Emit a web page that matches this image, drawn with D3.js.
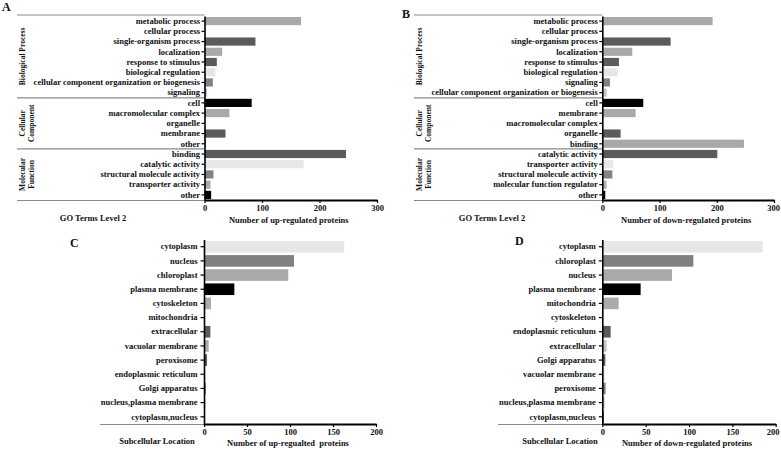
<!DOCTYPE html>
<html><head><meta charset="utf-8">
<script src="https://cdn.jsdelivr.net/npm/d3@7"></script>
<style>
body{margin:0;background:#fff}
svg{display:block}
text{font-family:"Liberation Serif","Times New Roman",serif;font-weight:bold;fill:#111}
</style>
</head><body><svg id="chart" width="781" height="449"></svg>
<script>
// ---------- data ----------
const termsA = ["metabolic process","cellular process","single-organism process","localization","response to stimulus","biological regulation","cellular component organization or biogenesis","signaling","cell","macromolecular complex","organelle","membrane","other","binding","catalytic activity","structural molecule activity","transporter activity","other"];
const upValuesA = [168,133,88.6,30.7,21.4,19,14.5,4.6,82,43.4,0,36.5,2.9,246,172.5,15.6,10.4,11.6];

const termsB = ["metabolic process","cellular process","single-organism process","localization","response to stimulus","biological regulation","signaling","cellular component organization or biogenesis","cell","membrane","macromolecular complex","organelle","binding","catalytic activity","transporter activity","structural molecule activity","molecular function regulator","other"];
const downValuesB = [192.8,0,119.4,52.4,29.1,26.8,13.4,7.6,71.6,58.2,0,32,247.5,201,19.2,17.5,7.6,5.2];

const goGroups = [["Biological Process"],["Cellular","Component"],["Molecular","Function"]];
const goGroupSizes = [8,5,5];

const locationsC = ["cytoplasm","nucleus","chloroplast","plasma membrane","cytoskeleton","mitochondria","extracellular","vacuolar membrane","peroxisome","endoplasmic reticulum","Golgi apparatus","nucleus,plasma membrane","cytoplasm,nucleus"];
const upValuesC = [163,104.7,98,35.3,8.1,0,7.4,5.4,3.5,1.5,2.3,1.5,1.2];

const locationsD = ["cytoplasm","chloroplast","nucleus","plasma membrane","mitochondria","cytoskeleton","endoplasmic reticulum","extracellular","Golgi apparatus","vacuolar membrane","peroxisome","nucleus,plasma membrane","cytoplasm,nucleus"];
const downValuesD = [185,105,80.4,44.2,18.8,0,9.6,5,3.5,3,3.8,2.7,1.5];

const ticksGO = [0,100,200,300];
const ticksLoc = [0,50,100,150,200];

// ---------- styles (bar fills) ----------
const fillA = ["#a9a9a9","#ffffff","#5b5b5b","#a9a9a9","#5b5b5b","#e6e6e6","#828282","#c4c4c4","#000000","#a9a9a9","#ffffff","#5b5b5b","#b8b8b8","#5b5b5b","#e8e8e8","#828282","#a9a9a9","#000000"];
const fillB = ["#a9a9a9","#ffffff","#5b5b5b","#a9a9a9","#5b5b5b","#e6e6e6","#828282","#c4c4c4","#000000","#a9a9a9","#ffffff","#5b5b5b","#a9a9a9","#5b5b5b","#e8e8e8","#828282","#b4b4b4","#000000"];
const fillC = ["#e6e6e6","#808080","#a9a9a9","#000000","#ababab","#ffffff","#5b5b5b","#ababab","#5b5b5b","#e6e6e6","#808080","#b4b4b4","#000000"];
const fillD = ["#e6e6e6","#808080","#a9a9a9","#000000","#ababab","#ffffff","#5b5b5b","#c4c4c4","#5b5b5b","#ececec","#808080","#c4c4c4","#000000"];

const svg = d3.select("#chart");

function panel(cfg){
  const g = svg.append("g");
  const n = cfg.labels.length;
  const x = d3.scaleLinear().domain([0, cfg.max]).range([cfg.x0, cfg.x1]);
  const y = d3.scaleBand().domain(d3.range(n)).range([cfg.yTop, cfg.yBot])
              .paddingInner(cfg.pad).paddingOuter(0.1);

  const gray = "#8a8a8a";
  g.append("line").attr("x1", cfg.lineLeft).attr("x2", cfg.x0)
    .attr("y1", cfg.yBot + 0.5).attr("y2", cfg.yBot + 0.5)
    .attr("stroke", gray).attr("stroke-width", 1.2);
  if (cfg.groups){
    g.append("line").attr("x1", cfg.lineLeft).attr("x2", cfg.x0)
      .attr("y1", cfg.yTop - 1).attr("y2", cfg.yTop - 1)
      .attr("stroke", gray).attr("stroke-width", 1.2);
    let start = 0;
    cfg.groupSizes.forEach((sz, gi) => {
      const top = gi === 0 ? cfg.yTop - 1 : y(start) - y.step()*y.paddingInner()/2;
      const end = start + sz;
      const bot = end >= n ? cfg.yBot : y(end) - y.step()*y.paddingInner()/2;
      if (end < n){
        g.append("line").attr("x1", cfg.lineLeft).attr("x2", cfg.x0)
          .attr("y1", bot).attr("y2", bot)
          .attr("stroke", gray).attr("stroke-width", 1.2);
      }
      const cy = (top + bot) / 2;
      cfg.groups[gi].forEach((t, li) => {
        g.append("text")
          .attr("transform", `translate(${cfg.groupX[li]},${cy}) rotate(-90)`)
          .attr("text-anchor", "middle").attr("dy", "0.35em")
          .style("font-size", "7.5px").text(t);
      });
      start = end;
    });
  }

  g.selectAll("rect.bar").data(cfg.values).join("rect")
    .attr("class","bar")
    .attr("x", x(0))
    .attr("y", (d,i) => y(i))
    .attr("width", d => Math.max(0, x(d) - x(0)))
    .attr("height", y.bandwidth())
    .attr("fill", (d,i) => cfg.fills[i]);

  const ya = g.append("g").attr("transform", `translate(${cfg.x0},0)`)
    .call(d3.axisLeft(y).tickSize(cfg.tick).tickSizeOuter(0).tickPadding(cfg.tickPad)
      .tickFormat(i => cfg.labels[i]));
  ya.select(".domain").attr("stroke","#000").attr("stroke-width",1.6);
  ya.selectAll(".tick line").attr("stroke","#000").attr("stroke-width",1.2);
  ya.selectAll(".tick text").style("font-size","8.5px")
    .style("font-family","'Liberation Serif','Times New Roman',serif").style("font-weight","bold").attr("fill","#111");

  const xa = g.append("g").attr("transform", `translate(0,${cfg.yBot})`)
    .call(d3.axisBottom(x).tickValues(cfg.ticks).tickSize(3).tickSizeOuter(0).tickPadding(2));
  xa.select(".domain").attr("stroke","#000").attr("stroke-width",2);
  xa.selectAll(".tick line").attr("stroke","#000").attr("stroke-width",1.2);
  xa.selectAll(".tick text").style("font-size","8.5px")
    .style("font-family","'Liberation Serif','Times New Roman',serif").style("font-weight","bold").attr("fill","#111");
  if (cfg.lastTickShift){
    xa.selectAll(".tick text").filter(d => d === cfg.max).attr("dx", cfg.lastTickShift);
  }

  g.append("text").attr("x", cfg.leftTitleX).attr("y", cfg.titleY - 2)
    .attr("text-anchor","middle").style("font-size","8.5px").text(cfg.leftTitle);
  g.append("text").attr("x", (cfg.x0 + cfg.x1)/2 - 2).attr("y", cfg.titleY)
    .attr("text-anchor","middle").style("font-size","8.5px")
    .attr("xml:space","preserve").text(cfg.axisTitle);
  g.append("text").attr("x", cfg.letterX).attr("y", cfg.letterY)
    .style("font-size","12px").text(cfg.letter);
}

panel({labels: termsA, values: upValuesA, fills: fillA, max: 300, ticks: ticksGO,
  x0: 204.5, x1: 377, yTop: 16, yBot: 200, pad: 0.2, tick: 3, tickPad: 1.5,
  lineLeft: 17, groups: goGroups, groupSizes: goGroupSizes, groupX: [22, 31],
  leftTitle: "GO Terms Level 2", leftTitleX: 93, axisTitle: "Number of up-regulated proteins",
  titleY: 223, letter: "A", letterX: 2, letterY: 11});

panel({labels: termsB, values: downValuesB, fills: fillB, max: 300, ticks: ticksGO,
  x0: 602.3, x1: 774, yTop: 16, yBot: 200, pad: 0.2, tick: 3, tickPad: 1.5,
  lineLeft: 414, groups: goGroups, groupSizes: goGroupSizes, groupX: [419, 428],
  leftTitle: "GO Terms Level 2", leftTitleX: 492, axisTitle: "Number of down-regulated proteins",
  titleY: 223, letter: "B", letterX: 402, letterY: 18, lastTickShift: -1});

panel({labels: locationsC, values: upValuesC, fills: fillC, max: 200, ticks: ticksLoc,
  x0: 204, x1: 376, yTop: 239.5, yBot: 424, pad: 0.18, tick: 3.5, tickPad: 3,
  lineLeft: 100, groups: null,
  leftTitle: "Subcellular Location", leftTitleX: 157, axisTitle: "Number of up-regualted  proteins",
  titleY: 446, letter: "C", letterX: 70, letterY: 247});

panel({labels: locationsD, values: downValuesD, fills: fillD, max: 200, ticks: ticksLoc,
  x0: 602.3, x1: 775.7, yTop: 239.5, yBot: 424, pad: 0.18, tick: 3.5, tickPad: 3,
  lineLeft: 498, groups: null,
  leftTitle: "Subcellular Location", leftTitleX: 560, axisTitle: "Number of down-regulated proteins",
  titleY: 446, letter: "D", letterX: 515, letterY: 245, lastTickShift: -3});
</script>
</body></html>
